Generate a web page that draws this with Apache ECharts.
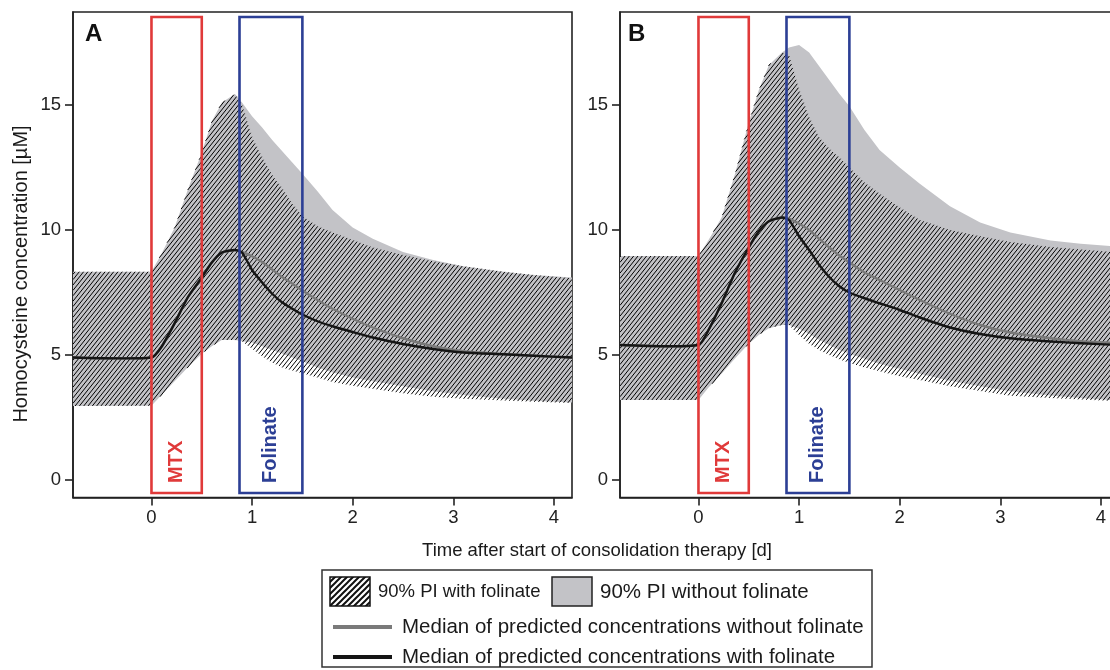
<!DOCTYPE html>
<html><head><meta charset="utf-8">
<script src="https://cdn.jsdelivr.net/npm/echarts@6/dist/echarts.min.js"></script>
<style>html,body{margin:0;padding:0;background:#fff}#c{width:1110px;height:670px}</style>
</head><body><div id="c"></div>
<script>
// ---- data ----
const t = [-0.78, 0, 0.1, 0.23, 0.36, 0.5, 0.6, 0.7, 0.83, 0.9, 1.0, 1.1, 1.2, 1.3, 1.4, 1.5, 1.65, 1.8, 2.0, 2.2, 2.5, 2.8, 3.1, 3.5, 3.8, 4.18];

// Panel A
const hiA  = [8.33, 8.33, 9.05, 10.1, 11.6, 13.1, 14.35, 15.1, 15.44, 15.0, 13.7, 12.9, 12.2, 11.65, 11.05, 10.55, 10.15, 9.9, 9.6, 9.3, 9.0, 8.75, 8.55, 8.33, 8.2, 8.07];
const loA  = [2.96, 2.97, 3.4, 3.95, 4.5, 5.05, 5.35, 5.6, 5.6, 5.55, 5.25, 4.95, 4.7, 4.5, 4.38, 4.27, 4.1, 3.92, 3.77, 3.65, 3.47, 3.33, 3.25, 3.18, 3.13, 3.08];
const hi0A = [8.33, 8.33, 9.05, 10.1, 11.6, 13.1, 14.35, 15.1, 15.44, 15.1, 14.55, 14.1, 13.6, 13.15, 12.7, 12.25, 11.55, 10.8, 10.1, 9.65, 9.12, 8.8, 8.55, 8.33, 8.2, 8.1];
const lo0A = [2.96, 2.97, 3.4, 3.95, 4.5, 5.05, 5.35, 5.6, 5.6, 5.55, 5.5, 5.35, 5.2, 5.05, 4.9, 4.75, 4.5, 4.3, 4.1, 3.95, 3.75, 3.55, 3.4, 3.25, 3.17, 3.1];
const medA  = [4.9, 4.9, 5.33, 6.27, 7.3, 8.1, 8.7, 9.1, 9.2, 9.1, 8.4, 7.9, 7.45, 7.1, 6.85, 6.62, 6.35, 6.15, 5.92, 5.7, 5.44, 5.24, 5.1, 5.03, 4.97, 4.9];
const med0A = [4.9, 4.9, 5.33, 6.27, 7.3, 8.1, 8.7, 9.1, 9.2, 9.12, 8.95, 8.72, 8.42, 8.12, 7.85, 7.58, 7.2, 6.85, 6.45, 6.1, 5.67, 5.35, 5.15, 5.04, 4.97, 4.9];

// Panel B
const hiB  = [8.96, 8.96, 9.6, 10.5, 12.2, 14.3, 15.6, 16.6, 17.1, 17.0, 15.6, 14.5, 13.7, 13.25, 12.9, 12.5, 11.9, 11.45, 10.9, 10.4, 10.0, 9.75, 9.52, 9.32, 9.22, 9.1];
const loB  = [3.2, 3.2, 3.7, 4.25, 4.85, 5.45, 5.8, 6.07, 6.2, 6.2, 5.8, 5.45, 5.2, 5.0, 4.83, 4.68, 4.5, 4.35, 4.15, 4.0, 3.75, 3.56, 3.37, 3.28, 3.22, 3.15];
const hi0B = [8.96, 8.96, 9.6, 10.5, 12.2, 14.3, 15.6, 16.6, 17.1, 17.3, 17.4, 17.1, 16.55, 16.0, 15.45, 14.95, 14.0, 13.2, 12.5, 11.85, 10.95, 10.3, 9.9, 9.58, 9.45, 9.33];
const lo0B = [3.2, 3.2, 3.7, 4.25, 4.85, 5.45, 5.8, 6.07, 6.2, 6.2, 6.05, 5.85, 5.6, 5.4, 5.2, 5.05, 4.85, 4.65, 4.45, 4.25, 3.97, 3.75, 3.55, 3.38, 3.28, 3.18];
const medB  = [5.4, 5.4, 6.0, 7.07, 8.27, 9.3, 9.95, 10.35, 10.5, 10.4, 9.75, 9.2, 8.6, 8.12, 7.75, 7.5, 7.27, 7.07, 6.8, 6.5, 6.1, 5.84, 5.67, 5.54, 5.47, 5.4];
const med0B = [5.4, 5.4, 6.0, 7.07, 8.27, 9.3, 9.95, 10.35, 10.5, 10.45, 10.25, 10.0, 9.65, 9.3, 8.98, 8.7, 8.3, 8.0, 7.6, 7.2, 6.65, 6.2, 5.9, 5.67, 5.55, 5.47];

// Dosing windows
const boxStart = [0, 0.875];
const boxEnd = [0.5, 1.5];
const boxLabel = ['MTX', 'Folinate'];
const boxBottom = -0.52, boxTop = 18.52, boxLabelY = -0.12;

// Axis ticks
const xTicks = [0, 1, 2, 3, 4];
const yTicks = [0, 5, 10, 15];
const xMin = -0.78, xMax = 4.18, yMin = -0.7, yMax = 18.72;

// ---- rendering ----
const FONT = '"Liberation Sans", Arial, Helvetica, sans-serif';
const RED = '#e03a3a', BLUE = '#2c3f95', GRAYBAND = '#c3c3c7', GRAYLINE = '#7a7a7a', BLACK = '#151515';
const HATCH_K = 1.25, HATCH_P = 4.3, HATCH_W = 1.0;

// hatch line segments ("/" direction) clipped to a polygon given in pixels
function hatchLines(pts) {
  let cmin = Infinity, cmax = -Infinity;
  pts.forEach(p => { const c = HATCH_K * p[0] + p[1]; cmin = Math.min(cmin, c); cmax = Math.max(cmax, c); });
  const step = HATCH_K * HATCH_P;
  const out = [];
  for (let c = Math.ceil(cmin / step) * step; c <= cmax; c += step) {
    const xs = [];
    for (let i = 0; i < pts.length; i++) {
      const a = pts[i], b = pts[(i + 1) % pts.length];
      const fa = HATCH_K * a[0] + a[1] - c, fb = HATCH_K * b[0] + b[1] - c;
      if ((fa <= 0 && fb > 0) || (fb <= 0 && fa > 0)) {
        const s = fa / (fa - fb);
        xs.push([a[0] + s * (b[0] - a[0]), a[1] + s * (b[1] - a[1])]);
      }
    }
    xs.sort((u, v) => u[0] - v[0]);
    for (let j = 0; j + 1 < xs.length; j += 2) {
      out.push({ type: 'line', shape: { x1: xs[j][0], y1: xs[j][1], x2: xs[j + 1][0], y2: xs[j + 1][1] },
        style: { stroke: '#000', lineWidth: HATCH_W } });
    }
  }
  return out;
}

function panel(gi, d) {
  return {
    type: 'custom', xAxisIndex: gi, yAxisIndex: gi, silent: true, clip: true, z: 2,
    data: t.map((x, i) => [x, d.med[i]]),
    renderItem: function (params, api) {
      if (params.dataIndex !== 0) return null;
      const poly = (lo, hi) => {
        const p = [];
        for (let i = 0; i < t.length; i++) p.push(api.coord([t[i], hi[i]]));
        for (let i = t.length - 1; i >= 0; i--) p.push(api.coord([t[i], lo[i]]));
        return p;
      };
      const line = arr => t.map((x, i) => api.coord([x, arr[i]]));
      const hp = poly(d.lo, d.hi);
      return { type: 'group', children: [].concat(
        [{ type: 'polygon', shape: { points: poly(d.lo0, d.hi0) }, style: { fill: GRAYBAND, stroke: null } }],
        hatchLines(hp),
        [{ type: 'polyline', shape: { points: line(d.med0), smooth: 0.2 }, style: { fill: null, stroke: GRAYLINE, lineWidth: 2.4 } },
         { type: 'polyline', shape: { points: line(d.med), smooth: 0.2 }, style: { fill: null, stroke: BLACK, lineWidth: 2.4 } }]
      )};
    }
  };
}
function boxes(gi) {
  return {
    type: 'custom', xAxisIndex: gi, yAxisIndex: gi, z: 10, silent: true, clip: false,
    data: boxStart.map((s, i) => [s, boxEnd[i]]),
    renderItem: function (params, api) {
      const i = params.dataIndex;
      const col = i === 0 ? RED : BLUE;
      const p0 = api.coord([api.value(0), boxTop]);
      const p1 = api.coord([api.value(1), boxBottom]);
      const pc = api.coord([(api.value(0) + api.value(1)) / 2, boxLabelY]);
      return { type: 'group', children: [
        { type: 'rect', shape: { x: p0[0], y: p0[1], width: p1[0] - p0[0], height: p1[1] - p0[1] },
          style: { fill: null, stroke: col, lineWidth: 2.6 } },
        { type: 'text', x: pc[0], y: pc[1], rotation: Math.PI / 2,
          style: { text: boxLabel[i], fill: col, font: 'bold 20px ' + FONT, align: 'left', verticalAlign: 'middle' } }
      ]};
    }
  };
}
function xAx(gi) {
  return {
    type: 'value', gridIndex: gi, min: xMin, max: xMax,
    axisLine: { show: true, onZero: false, lineStyle: { color: '#222', width: 1.6 } },
    axisTick: { show: true, length: 8, customValues: xTicks, lineStyle: { color: '#222', width: 1.6 } },
    axisLabel: { customValues: xTicks, fontSize: 18.5, color: '#222', fontFamily: FONT, margin: 11 },
    splitLine: { show: false }
  };
}
function yAx(gi) {
  return {
    type: 'value', gridIndex: gi, min: yMin, max: yMax,
    axisLine: { show: true, onZero: false, lineStyle: { color: '#222', width: 1.6 } },
    axisTick: { show: true, length: 8, customValues: yTicks, lineStyle: { color: '#222', width: 1.6 } },
    axisLabel: { customValues: yTicks, fontSize: 18.5, color: '#222', fontFamily: FONT, margin: 12 },
    splitLine: { show: false }
  };
}

function makeHatchTile(size, lw) {
  const c = document.createElement('canvas');
  c.width = size; c.height = size;
  const g = c.getContext('2d');
  g.fillStyle = '#fff'; g.fillRect(0, 0, size, size);
  g.strokeStyle = '#111'; g.lineWidth = lw;
  g.beginPath();
  g.moveTo(-1, size + 1); g.lineTo(size + 1, -1);
  g.moveTo(-1, 1); g.lineTo(1, -1);
  g.moveTo(size - 1, size + 1); g.lineTo(size + 1, size - 1);
  g.stroke();
  return c;
}
const hatchLegend = { image: makeHatchTile(6, 2.0), repeat: 'repeat' };

const chart = echarts.init(document.getElementById('c'), null, { renderer: 'canvas' });
const legendText = (txt, x, y, size) => ({ type: 'text', x: x, y: y, style: { text: txt, fill: '#1a1a1a', font: size + 'px ' + FONT, align: 'left', verticalAlign: 'middle' } });

chart.setOption({
  animation: false,
  backgroundColor: '#fff',
  grid: [
    { left: 73, top: 12, width: 499, height: 485.5, outerBoundsMode: 'none', containLabel: false, show: true, borderColor: '#222', borderWidth: 1.6, backgroundColor: 'transparent' },
    { left: 620, top: 12, width: 499, height: 485.5, outerBoundsMode: 'none', containLabel: false, show: true, borderColor: '#222', borderWidth: 1.6, backgroundColor: 'transparent' }
  ],
  xAxis: [xAx(0), xAx(1)],
  yAxis: [yAx(0), yAx(1)],
  series: [
    panel(0, { hi0: hi0A, lo0: lo0A, hi: hiA, lo: loA, med0: med0A, med: medA }),
    boxes(0),
    panel(1, { hi0: hi0B, lo0: lo0B, hi: hiB, lo: loB, med0: med0B, med: medB }),
    boxes(1)
  ],
  graphic: [
    { type: 'text', x: 85, y: 22, z: 100, style: { text: 'A', fill: '#111', font: 'bold 24px ' + FONT } },
    { type: 'text', x: 628, y: 22, z: 100, style: { text: 'B', fill: '#111', font: 'bold 24px ' + FONT } },
    { type: 'text', x: 21, y: 274, rotation: Math.PI / 2,
      style: { text: 'Homocysteine concentration [µM]', fill: '#1a1a1a', font: '20px ' + FONT, align: 'center', verticalAlign: 'middle' } },
    { type: 'text', x: 597, y: 551,
      style: { text: 'Time after start of consolidation therapy [d]', fill: '#1a1a1a', font: '18.5px ' + FONT, align: 'center', verticalAlign: 'middle' } },
    // legend
    { type: 'rect', shape: { x: 322, y: 570, width: 550, height: 97 }, style: { fill: '#fff', stroke: '#333', lineWidth: 1.5 } },
    { type: 'rect', shape: { x: 330, y: 577, width: 40, height: 29 }, style: { fill: hatchLegend, stroke: '#111', lineWidth: 1.5 } },
    legendText('90% PI with folinate', 378, 592, 18.5),
    { type: 'rect', shape: { x: 552, y: 577, width: 40, height: 29 }, style: { fill: GRAYBAND, stroke: '#222', lineWidth: 1.5 } },
    legendText('90% PI without folinate', 600, 592, 20.5),
    { type: 'line', shape: { x1: 333, y1: 627, x2: 392, y2: 627 }, style: { stroke: GRAYLINE, lineWidth: 4 } },
    legendText('Median of predicted concentrations without folinate', 402, 627, 20.5),
    { type: 'line', shape: { x1: 333, y1: 657, x2: 392, y2: 657 }, style: { stroke: BLACK, lineWidth: 4 } },
    legendText('Median of predicted concentrations with folinate', 402, 657, 20.5)
  ]
});
</script>
</body></html>
